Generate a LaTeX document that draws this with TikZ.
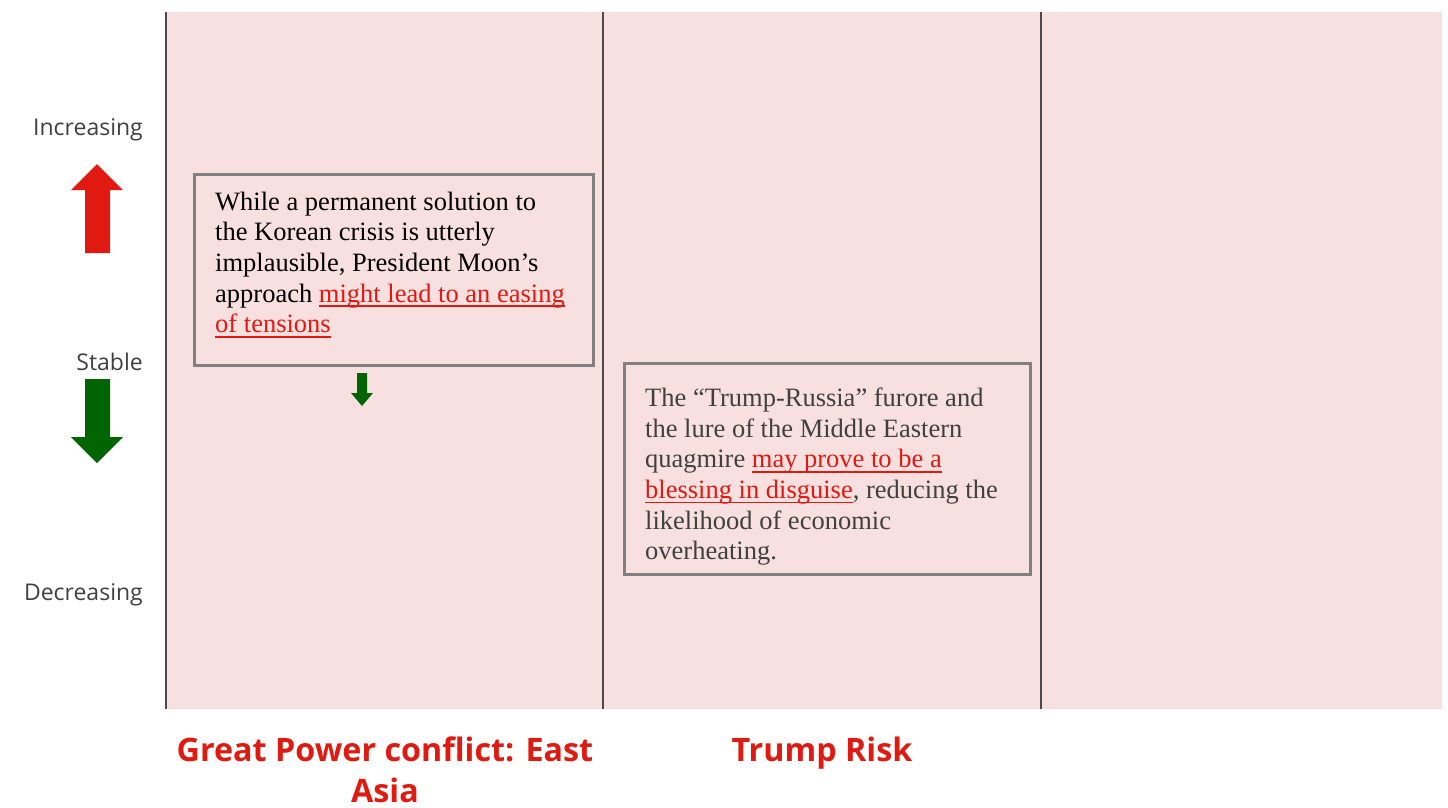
\documentclass[tikz,border=0pt]{standalone}
\usepackage{fontspec}
\setmainfont{Liberation Serif}
\newfontfamily\labelfont{Open Sans}
\definecolor{bgpink}{HTML}{F8E0E0}
\definecolor{boxgray}{HTML}{808080}
\definecolor{linegray}{HTML}{4A4A4A}
\definecolor{txtgray}{HTML}{404040}
\definecolor{myred}{HTML}{E01A10}
\definecolor{mygreen}{HTML}{006400}
\newcommand\redlink[1]{{\color{myred}\setbox0\hbox{#1}\rlap{\vrule height -3.2pt depth 5pt width \wd0}\box0}}
\begin{document}
\begin{tikzpicture}[x=1pt,y=-1pt,
  framebox/.style={draw=boxgray, line width=3pt, fill=bgpink, anchor=north west, inner sep=0pt},
  bodytext/.style={anchor=north west, align=left, inner sep=0pt, font=\fontsize{26.5}{30.7}\selectfont},
  sidelabel/.style={anchor=east, inner sep=0pt, text=txtgray, font=\labelfont\fontsize{23}{26}\selectfont},
  catlabel/.style={anchor=north, align=center, inner sep=0pt, text=myred, font=\labelfont\bfseries\fontsize{32.3}{41}\selectfont},
  divider/.style={draw=linegray, line width=1.6pt}
]
\useasboundingbox (0,0) rectangle (1448,807);
% background panel
\fill[bgpink] (166,12) rectangle (1442,709);
% dividers
\coordinate (d1t) at (166,12); \coordinate (d1b) at (166,709);
\coordinate (d2t) at (603,12); \coordinate (d2b) at (603,709);
\coordinate (d3t) at (1041,12); \coordinate (d3b) at (1041,709);
\draw[divider] (d1t) -- (d1b);
\draw[divider] (d2t) -- (d2b);
\draw[divider] (d3t) -- (d3b);
% side labels
\node[sidelabel] (inc) at (143,130) {Increasing};
\node[sidelabel] (sta) at (143,362) {Stable};
\node[sidelabel] (dec) at (143,595) {Decreasing};
% big arrows
\fill[myred] (97,164) -- (123,190) -- (110,190) -- (110,253) -- (85,253) -- (85,190) -- (71,190) -- cycle;
\fill[mygreen] (97,463) -- (123,437) -- (110,437) -- (110,379) -- (85,379) -- (85,437) -- (71,437) -- cycle;
% box 1
\node[framebox, minimum width=399pt, minimum height=191pt] (b1) at (193,173) {};
\node[bodytext] (t1) at (215,191.5) {While a permanent solution to\\the Korean crisis is utterly\\implausible, President Moon’s\\approach \redlink{might lead to an easing}\\\redlink{of tensions}};
% small green arrow
\fill[mygreen] (362,406) -- (373,393) -- (367,393) -- (367,373) -- (357,373) -- (357,393) -- (351,393) -- cycle;
% box 2
\node[framebox, minimum width=406pt, minimum height=211pt] (b2) at (623,362) {};
\node[bodytext, text=txtgray] (t2) at (645,387.5) {The “Trump-Russia” furore and\\the lure of the Middle Eastern\\quagmire \redlink{may prove to be a}\\\redlink{blessing in disguise}, reducing the\\likelihood of economic\\overheating.};
% category labels
\node[catlabel] (c1) at (385,737) {Great Power conflict: East\\Asia};
\node[catlabel] (c2) at (822,737) {Trump Risk};
\end{tikzpicture}
\end{document}
